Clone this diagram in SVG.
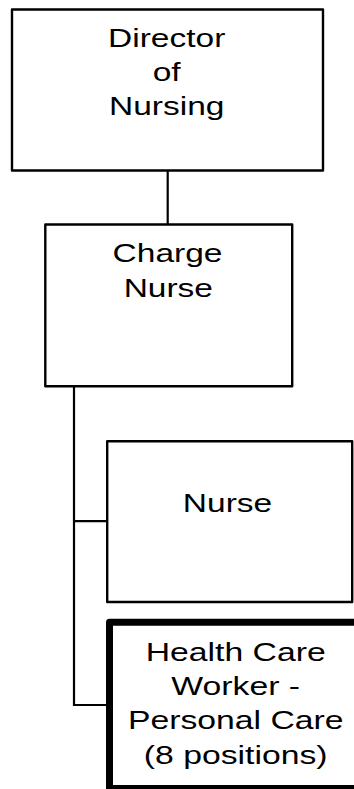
<svg xmlns="http://www.w3.org/2000/svg" width="354" height="789" viewBox="0 0 354 789">
<style>
.box{fill:#fff;stroke:#000;stroke-width:2.4;stroke-linejoin:round}
.bold{fill:#fff;stroke:#000;stroke-width:7;stroke-linejoin:round}
.conn{fill:none;stroke:#000;stroke-width:2.2}
text{font-family:"Liberation Sans",Arial,sans-serif;font-size:25px;fill:#000;text-anchor:middle}
</style>
<rect width="354" height="789" fill="#fff"/>
<g id="connectors">
<line class="conn" x1="167.7" y1="170.5" x2="167.7" y2="224.5"/>
<polyline class="conn" points="74,386.2 74,705 109.5,705"/>
<line class="conn" x1="74" y1="521.2" x2="107.2" y2="521.2"/>
</g>
<g id="director">
<rect class="box" x="12" y="9.5" width="311" height="161"/>
<text transform="translate(166.7,47) scale(1.34,1)">Director</text>
<text transform="translate(166.7,81.2) scale(1.34,1)">of</text>
<text transform="translate(166.7,115.4) scale(1.34,1)">Nursing</text>
</g>
<g id="charge-nurse">
<rect class="box" x="45.3" y="224.5" width="246.9" height="161.7"/>
<text transform="translate(167.5,262) scale(1.34,1)">Charge</text>
<text transform="translate(168.3,297) scale(1.34,1)">Nurse</text>
</g>
<g id="nurse">
<rect class="box" x="107.2" y="441.2" width="245" height="160.8"/>
<text transform="translate(227.5,511.7) scale(1.34,1)">Nurse</text>
</g>
<g id="hcw">
<rect class="bold" x="109.5" y="622.3" width="253" height="166.2"/>
<text transform="translate(235.7,660.7) scale(1.35,1)">Health Care</text>
<text transform="translate(235.7,695) scale(1.35,1)">Worker -</text>
<text transform="translate(235.7,729.3) scale(1.35,1)">Personal Care</text>
<text transform="translate(235.7,764) scale(1.35,1)">(8 positions)</text>
</g>
</svg>
